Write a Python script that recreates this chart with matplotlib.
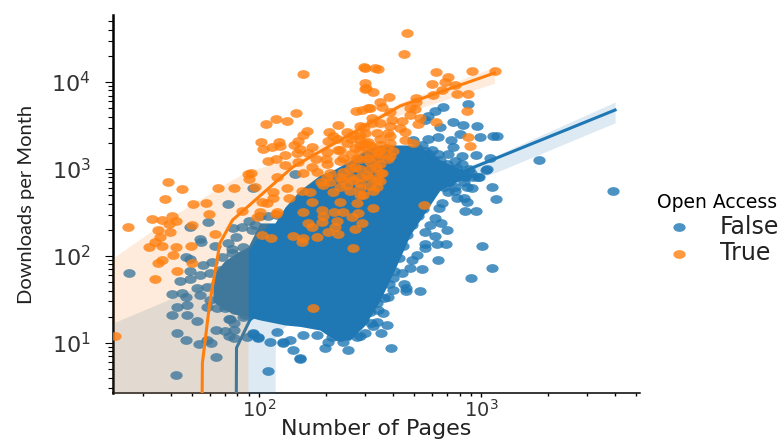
import matplotlib
matplotlib.use("Agg")
import matplotlib.pyplot as plt
from matplotlib.path import Path
from matplotlib.ticker import LogLocator, NullFormatter
from matplotlib.transforms import Affine2D

BLUE = "#1f77b4"
ORANGE = "#ff7f0e"

# (pages, downloads)
false_low_tail = [
    (26, 64), (42.3, 4.3), (64, 6.9), (110, 4.8), (153, 6.5), (46.9, 10.8), (42.7, 13), (52.6, 18), (40.5, 21),
    (47.4, 21), (42.7, 26), (47.4, 27), (40.5, 37), (45, 38), (46.9, 34), (44, 52), (48.9, 54), (48.9, 67),
    (46.9, 97), (48.9, 92), (54.2, 157), (48.9, 216), (58.9, 246), (53.7, 9.7), (60.8, 10), (58.3, 10.8),
    (64, 14.1), (70.3, 13.7), (77.2, 14.1), (73.3, 19), (77.2, 17), (73.3, 12), (77.2, 11.4), (84.7, 20),
    (88.4, 11.7), (94, 12.7), (99, 11.7), (112, 10.3), (128, 10), (142, 8.3), (198, 8.8), (252, 8.3),
    (393, 8.8), (326, 15.5), (377, 16), (355, 13), (340, 17.5), (362, 22),
]
false_left_cluster = [
    (55.9, 79), (61.4, 85), (68.1, 97), (75.6, 108), (83.8, 103), (54.2, 60), (60, 64), (66.7, 69), (75.6, 75),
    (84.7, 75), (52.6, 43), (58.3, 44), (64.7, 49), (71.8, 53), (79.6, 56), (86.5, 56), (54.2, 36), (60, 31),
    (66.7, 36), (74, 39), (82, 39), (88.4, 41), (58.3, 26), (64.7, 25), (71.8, 27), (79.6, 27), (86.5, 29),
    (70.3, 25), (78, 24), (86.5, 21), (74, 19), (76.4, 210), (83.8, 216), (78.8, 165), (72.5, 141), (63.3, 130),
    (84.7, 127), (75.6, 120), (93, 199), (72.5, 395), (55, 145), (94, 600), (146, 880), (96, 230), (90, 250),
    (101, 290), (110, 290), (120, 300),
]
false_right_edge = [
    (905, 56), (1123, 73), (1010, 130), (531, 40), (460, 40), (460, 43), (450, 48), (543, 71), (640, 90),
    (633, 137), (696, 137), (703, 199), (620, 170), (560, 137), (560, 124), (515, 103), (489, 90), (479, 73),
    (441, 64), (402, 56), (402, 41), (381, 34), (661, 240), (620, 273), (589, 228), (560, 189), (647, 356),
    (668, 406), (945, 329), (849, 329), (867, 417), (840, 470), (782, 460), (766, 560), (711, 540), (867, 620),
    (915, 610), (1123, 620), (1170, 450), (965, 810), (1056, 980), (849, 810), (703, 710), (340, 29), (316, 23),
    (294, 18.4), (285, 12), (300, 13), (320, 17), (345, 24), (365, 33), (385, 48), (405, 68), (425, 95),
    (445, 130), (465, 175), (490, 225), (520, 290), (550, 345),
]
false_upper_tail = [
    (3930, 560), (1824, 1280), (1182, 2420), (1135, 2420), (1064, 1010), (1100, 1350), (975, 810), (945, 1460),
    (986, 2350), (955, 3130), (830, 3220), (749, 3480), (654, 3050), (876, 5590), (675, 5170), (620, 4650),
    (578, 4080), (560, 3670), (804, 2550), (733, 2180), (749, 1810), (640, 2350), (578, 2230), (494, 2180),
    (822, 1420), (711, 1500), (654, 1280), (782, 1040), (849, 830), (711, 710), (602, 1670), (515, 1760),
    (600, 1300), (640, 1100), (680, 900), (600, 900), (560, 1600), (620, 1000), (700, 860), (740, 1000),
    (760, 800), (650, 800), (720, 700), (800, 900), (680, 620), (640, 640), (590, 700), (540, 1900), (580, 1500),
    (640, 1500), (700, 1150), (760, 1250), (820, 1150), (880, 1000), (900, 900), (920, 800), (840, 700),
    (760, 620), (690, 720),
]
false_bottom_edge = [
    (153, 6.7), (99, 11.4), (128, 10.3), (138, 10.8), (158, 12.4), (183, 12.4), (205, 10.3), (239, 10.3),
    (277, 11.7), (94, 13), (120, 13.4), (232, 11.7), (213, 11.7),
]

# outline of the False cloud, where single points can no longer be told apart
core_pages = [62, 70, 80, 89.2, 101, 118, 131, 153, 188, 220, 257, 300, 351, 408, 479, 561, 654, 766, 880]
core_low = [30, 24, 21, 20, 18.4, 17, 16.1, 15.5, 14.1, 10.8, 10.8, 16, 31, 69, 174, 320, 574, 700, 830]
core_high = [60, 88, 110, 127, 240, 240, 366, 574, 850, 1000, 1250, 1660, 1890, 1890, 1890, 1660, 1280, 1050, 950]

true_left = [
    (38.9, 710), (45, 590), (37.7, 450), (50.4, 396), (57.7, 406), (65.3, 610), (77.2, 610), (89.2, 870),
    (59.5, 304), (40.5, 288), (32.9, 266), (36.6, 259), (42.3, 252), (39.3, 234), (49.9, 228), (25.7, 216),
    (35, 199), (39.7, 189), (63.3, 179), (35.8, 165), (34, 146), (31.9, 127), (36.6, 130), (42.3, 127),
    (49.4, 130), (41, 103), (36.6, 90), (35, 83), (49.9, 83), (42.7, 67), (34, 54), (83.8, 329), (22.5, 12),
    (175, 25),
]
true_mid_top = [
    (158, 12300), (297, 14900), (300, 9700), (300, 8310), (147, 4410), (119, 3770), (134, 3580), (107, 3300),
    (274, 4650), (310, 5030), (227, 3220), (207, 2680), (165, 2750), (158, 2480), (150, 2120), (123, 2060),
    (102, 2060), (104, 1720), (114, 1810), (124, 1860), (144, 1910), (205, 2120), (225, 2230), (249, 2680),
    (285, 3130), (131, 1460), (119, 1320), (110, 1250), (148, 1540), (166, 1540), (173, 1810), (153, 1720),
    (131, 1100), (92, 900), (90.1, 770), (121, 810), (150, 1190), (173, 1060), (203, 1130), (203, 1580),
    (227, 1670), (239, 1350), (271, 1760), (277, 1350), (300, 2010), (249, 2010), (265, 2480), (285, 2480),
    (158, 900), (183, 930), (239, 930), (271, 1060),
]
true_right_top = [
    (465, 36500), (450, 21000), (300, 14500), (333, 14500), (344, 14100), (627, 13000), (915, 13300),
    (1158, 13300), (711, 11400), (689, 10000), (602, 9470), (766, 9220), (668, 8090), (782, 7270), (876, 7270),
    (608, 7080), (303, 8530), (326, 7670), (385, 6720), (510, 6550), (510, 5890), (351, 5890), (358, 5170),
    (389, 4530), (316, 5030), (291, 4770), (479, 5030), (505, 4900), (479, 4190), (323, 3870), (323, 3390),
    (397, 3670), (441, 3580), (531, 3870), (521, 3300), (627, 3480), (867, 4650), (432, 2970), (389, 3130),
    (351, 3390), (297, 3050), (300, 2610), (340, 2610), (381, 2610), (455, 2680), (285, 2180), (310, 2060),
    (351, 1910), (389, 2010), (455, 2180), (494, 2010), (876, 2350), (895, 1860), (402, 1630), (344, 1580),
    (310, 1350), (344, 1350), (337, 1060), (300, 1810), (326, 1760), (377, 1760),
]
true_lower = [
    (96, 620), (116, 540), (134, 610), (137, 460), (156, 560), (170, 540), (173, 417), (116, 470), (109, 406),
    (103, 417), (101, 320), (98, 280), (121, 320), (119, 304), (158, 320), (192, 338), (194, 288), (192, 246),
    (218, 320), (239, 320), (280, 312), (262, 280), (225, 252), (166, 240), (173, 216), (220, 216), (205, 189),
    (271, 205), (227, 179), (103, 174), (113, 161), (142, 170), (158, 161), (156, 146), (183, 165), (265, 124),
    (194, 660), (203, 810), (232, 417), (277, 406), (285, 500), (249, 660), (285, 690), (215, 540), (237, 750),
    (265, 750), (554, 385), (326, 560), (326, 356), (294, 500), (291, 240), (340, 750), (358, 900), (306, 850),
]
true_dense = [
    (285, 1900), (316, 1900), (351, 2200), (389, 2400), (316, 1500), (351, 1500), (389, 1400), (232, 1250),
    (257, 1200), (285, 1300), (316, 1200), (351, 1150), (257, 1000), (285, 1000), (316, 1000), (351, 900),
    (209, 900), (232, 800), (257, 820), (285, 820), (316, 780), (351, 720), (232, 620), (257, 560), (285, 600),
    (316, 640), (340, 620), (209, 700), (190, 700), (351, 1650), (380, 1300), (200, 1300), (180, 1300),
    (260, 1500), (232, 1650), (215, 2400), (260, 2200), (285, 1650),
]

# regression lines and confidence bands
false_line_pages = [79, 79.2, 91, 500, 910, 4016]
false_line_downloads = [2, 8.8, 18.4, 540, 1027, 4770]
false_band_pages = [22, 42, 100, 118, 118.5, 500, 1180, 4016]
false_band_high = [17, 34, 90, 110, 110, 620, 1450, 5900]
false_band_low = [1, 1, 1, 1, 12, 430, 926, 3400]

true_line_pages = [55.4, 55.6, 60, 64.7, 66.7, 76, 142, 432, 1150]
true_line_downloads = [2, 5.9, 28.8, 90, 141, 259, 1055, 5300, 12700]
true_band_pages = [22, 43, 69, 89, 89.5, 118, 134, 188, 432, 1150]
true_band_high = [95, 312, 655, 950, 950, 1150, 1270, 1900, 5800, 14900]
true_band_low = [1, 1, 1, 1, 117, 297, 380, 850, 4200, 9700]

xticks = [100, 1000]
yticks = [10, 100, 1000, 10000]

false_points = false_low_tail + false_left_cluster + false_right_edge + false_upper_tail + false_bottom_edge
true_points = true_left + true_mid_top + true_right_top + true_lower + true_dense
false_pages, false_downloads = zip(*false_points)
true_pages, true_downloads = zip(*true_points)

# the markers are wider than tall in the reference
wide_dot = Path.unit_circle().transformed(Affine2D().scale(1.4, 1))

fig = plt.figure(figsize=(7.84, 4.44), dpi=100)
ax = fig.add_axes([113 / 784, 1 - 393 / 444, (640 - 113) / 784, (393 - 15) / 444])

ax.fill_between(core_pages, core_low, core_high, color=BLUE, lw=0, zorder=2)
false_dots = ax.scatter(false_pages, false_downloads, s=78, marker=wide_dot, color=BLUE,
                        alpha=0.8, lw=0, zorder=2, label="False")
ax.plot(false_line_pages, false_line_downloads, color=BLUE, lw=2.2, zorder=3)
ax.fill_between(false_band_pages, false_band_low, false_band_high, color=BLUE, alpha=0.15, lw=0, zorder=3)

true_dots = ax.scatter(true_pages, true_downloads, s=78, marker=wide_dot, color=ORANGE,
                       alpha=0.8, lw=0, zorder=4, label="True")
ax.plot(true_line_pages, true_line_downloads, color=ORANGE, lw=2.2, zorder=5)
ax.fill_between(true_band_pages, true_band_low, true_band_high, color=ORANGE, alpha=0.15, lw=0, zorder=5)

ax.set_xscale("log")
ax.set_yscale("log")
ax.set_xlim(22, 5200)
ax.set_ylim(2.66, 59000)
ax.set_xticks(xticks)
ax.set_yticks(yticks)
for axis in (ax.xaxis, ax.yaxis):
    axis.set_minor_locator(LogLocator(base=10, subs=range(2, 10), numticks=12))
    axis.set_minor_formatter(NullFormatter())

ax.spines["top"].set_visible(False)
ax.spines["right"].set_visible(False)
ax.spines["left"].set_linewidth(1.8)
ax.spines["bottom"].set_linewidth(1.1)
ax.tick_params(axis="y", which="major", length=6, width=0.8, labelsize=16, labelcolor="#333333", pad=10)
ax.tick_params(axis="y", which="minor", length=3.6, width=0.8)
ax.tick_params(axis="x", which="major", length=3, width=1, labelsize=14, labelcolor="#333333", pad=1)
ax.tick_params(axis="x", which="minor", length=2, width=1)

ax.set_xlabel("Number of Pages", fontsize=16, color="#222222", labelpad=-1)
ax.set_ylabel("Downloads per Month", fontsize=14.5, family="Lato", color="#222222", labelpad=12)

legend = fig.legend(handles=[false_dots, true_dots], title="Open Access", title_fontsize=13.5, fontsize=17,
                    loc="center left", bbox_to_anchor=(644 / 784, 1 - 229 / 444), frameon=False,
                    handletextpad=0.7, labelspacing=0.1, borderpad=0)
for label in legend.get_texts():
    label.set_color("#222222")

fig.savefig("out.png", dpi=100)
